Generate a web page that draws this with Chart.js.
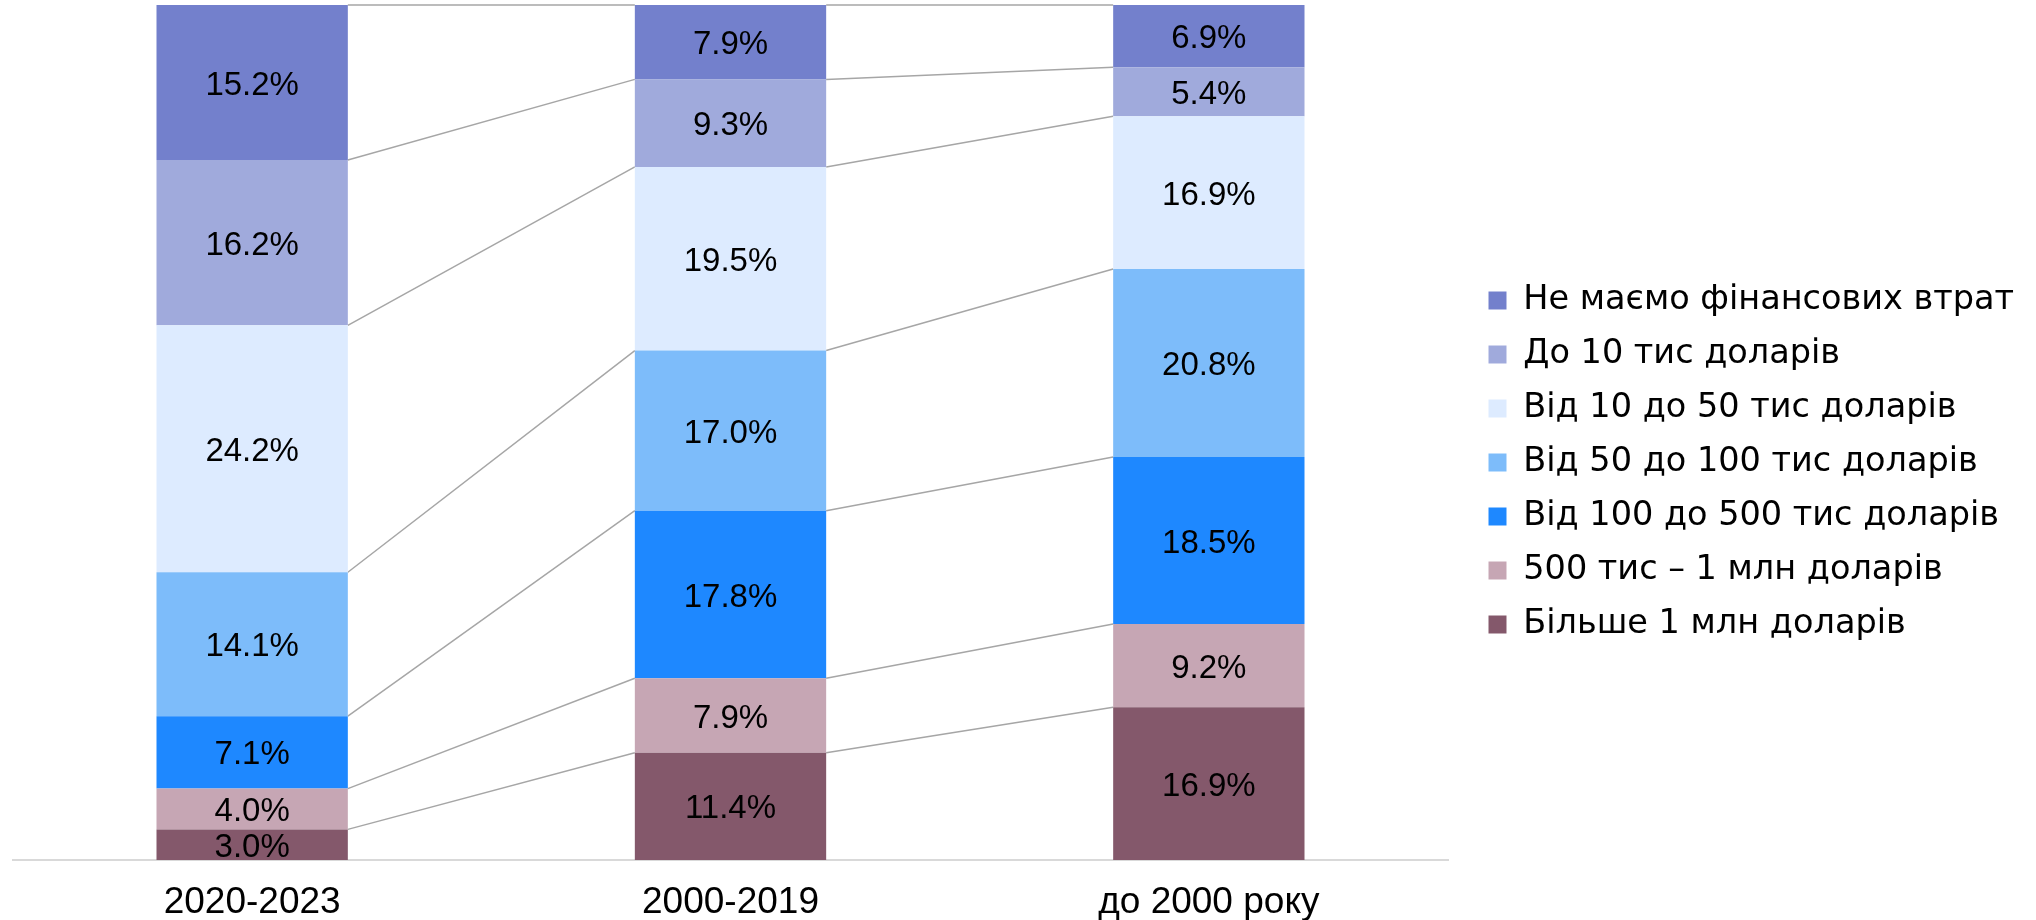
<!DOCTYPE html>
<html>
<head>
<meta charset="utf-8">
<script src="https://cdn.jsdelivr.net/npm/chart.js@4"></script>
<style>
  html, body { margin: 0; padding: 0; background: #fff; }
  #wrap { width: 2036px; height: 920px; position: relative; }
</style>
</head>
<body>
<div id="wrap"><canvas id="lossChart"></canvas></div>
<script>
// periods of founding
const categories = ['2020-2023', '2000-2019', 'до 2000 року'];

// series, bottom of the stack first
const seriesNames = [
  'Більше 1 млн доларів',
  '500 тис – 1 млн доларів',
  'Від 100 до 500 тис доларів',
  'Від 50 до 100 тис доларів',
  'Від 10 до 50 тис доларів',
  'До 10 тис доларів',
  'Не маємо фінансових втрат'
];
const over1m = [3.0, 11.4, 16.9];
const from500kTo1m = [4.0, 7.9, 9.2];
const from100To500 = [7.1, 17.8, 18.5];
const from50To100 = [14.1, 17.0, 20.8];
const from10To50 = [24.2, 19.5, 16.9];
const upTo10 = [16.2, 9.3, 5.4];
const noLosses = [15.2, 7.9, 6.9];

const seriesValues = [over1m, from500kTo1m, from100To500, from50To100, from10To50, upTo10, noLosses];
const seriesColors = ['#84586b', '#c6a6b4', '#1e88ff', '#7dbcfa', '#ddebff', '#a0aadc', '#7380cc'];

// each column is drawn as 100% stacked
const totals = categories.map((c, j) => seriesValues.reduce((s, arr) => s + arr[j], 0));

const datasets = seriesNames.map((name, i) => ({
  label: name,
  raw: seriesValues[i],
  data: seriesValues[i].map((v, j) => v / totals[j] * 100),
  backgroundColor: seriesColors[i],
  borderWidth: 0,
  barPercentage: 0.4,
  categoryPercentage: 1.0
}));

// grey lines joining segment edges of neighbouring columns
const connectors = {
  id: 'connectors',
  beforeDatasetsDraw(chart) {
    const ctx = chart.ctx;
    ctx.save();
    ctx.strokeStyle = '#a6a6a6';
    ctx.lineWidth = 1.5;
    chart.data.datasets.forEach((ds, i) => {
      const bars = chart.getDatasetMeta(i).data;
      for (let j = 0; j < bars.length - 1; j++) {
        const a = bars[j], b = bars[j + 1];
        ctx.beginPath();
        ctx.moveTo(a.x + a.width / 2, a.y);
        ctx.lineTo(b.x - b.width / 2, b.y);
        ctx.stroke();
      }
    });
    ctx.restore();
  }
};

// value labels in the middle of each segment
const segmentLabels = {
  id: 'segmentLabels',
  afterDatasetsDraw(chart) {
    const ctx = chart.ctx;
    const area = chart.chartArea;
    ctx.save();
    ctx.beginPath();
    ctx.rect(area.left, area.top, area.right - area.left, area.bottom - area.top);
    ctx.clip();
    ctx.font = '33px "Liberation Sans", Arial, sans-serif';
    ctx.fillStyle = '#000';
    ctx.textAlign = 'center';
    ctx.textBaseline = 'middle';
    chart.data.datasets.forEach((ds, i) => {
      chart.getDatasetMeta(i).data.forEach((bar, j) => {
        ctx.fillText(ds.raw[j].toFixed(1) + '%', bar.x, (bar.y + bar.base) / 2 + 3);
      });
    });
    ctx.restore();
  }
};

// keep a wide gap between plot and legend
const legendSpace = {
  id: 'legendSpace',
  afterInit(chart) {
    const legend = chart.legend;
    const fit = legend.fit;
    legend.fit = function () {
      fit.call(this);
      this.width = chart.width - 1448;
    };
  },
  afterLayout(chart) {
    const legend = chart.legend;
    const w = legend.width;
    legend.left = 1468;
    legend.right = legend.left + w;
  }
};

new Chart(document.getElementById('lossChart'), {
  type: 'bar',
  data: { labels: categories, datasets: datasets },
  plugins: [legendSpace, connectors, segmentLabels],
  options: {
    responsive: true,
    maintainAspectRatio: false,
    animation: false,
    layout: { padding: { top: 5, left: 13, right: 0, bottom: 0 } },
    scales: {
      x: {
        stacked: true,
        grid: { display: false, drawTicks: false },
        border: { display: true, color: '#d9d9d9', width: 2 },
        ticks: {
          color: '#000',
          padding: 24,
          font: { family: '"Liberation Sans", Arial, sans-serif', size: 37, lineHeight: 1 }
        },
        afterFit(scale) { scale.height = 60; }
      },
      y: {
        stacked: true,
        display: false,
        min: 0,
        max: 100
      }
    },
    plugins: {
      tooltip: { enabled: false },
      legend: {
        position: 'right',
        align: 'center',
        reverse: true,
        labels: {
          color: '#000',
          boxWidth: 18,
          boxHeight: 18,
          padding: 20.5,
          font: { family: '"DejaVu Sans", sans-serif', size: 33.5 }
        }
      }
    }
  }
});
</script>
</body>
</html>
